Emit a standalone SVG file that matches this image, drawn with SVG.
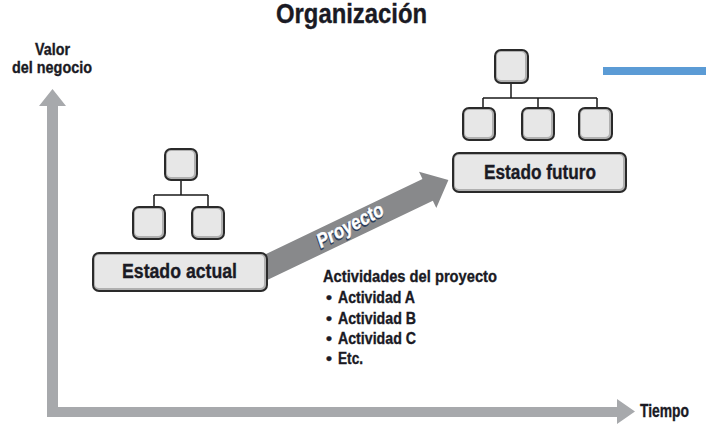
<svg xmlns="http://www.w3.org/2000/svg" width="706" height="444" viewBox="0 0 706 444">
<style>
text{font-family:"Liberation Sans",Arial,sans-serif;font-weight:bold;fill:#1a1a24;stroke:#1a1a24;stroke-width:0.35}
.ob{fill:#b0b0b0;stroke:#2a2a2a;stroke-width:2}
.ib{fill:#e7e7e7}
.ln{stroke:#1a1a1a;stroke-width:1.5;fill:none}
.ax{fill:#a7a9ac}
</style>
<rect width="706" height="444" fill="#fff"/>
<text x="351.5" y="23" font-size="27" text-anchor="middle" textLength="151" lengthAdjust="spacingAndGlyphs">Organización</text>
<g id="axes">
<polygon class="ax" points="47,106 39,106 52.5,89 66,106 58,106 58,407 617,407 617,399 635,411.5 617,424 617,417 47,417"/>
<text x="52.5" y="55" font-size="17" text-anchor="middle" textLength="35" lengthAdjust="spacingAndGlyphs">Valor</text>
<text x="52" y="73" font-size="17" text-anchor="middle" textLength="80" lengthAdjust="spacingAndGlyphs">del negocio</text>
<text x="640" y="417" font-size="18" textLength="49" lengthAdjust="spacingAndGlyphs">Tiempo</text>
</g>
<g id="connectors">
<path class="ln" d="M181,180V195M154,195H208M154,195V207M208,195V207"/>
<path class="ln" d="M511,83V98M483,98H597M483,98V108M538,98V108M597,98V108"/>
</g>
<g id="proyecto-arrow">
<g transform="translate(250,275) rotate(-25.6)">
<polygon points="0,-12 197,-12 197,-20 220,0 197,20 197,12 0,12" fill="#88898b"/>
</g>
<g transform="rotate(-28 350 225)">
<text x="349" y="233" font-size="20" font-style="italic" text-anchor="middle" textLength="73" lengthAdjust="spacingAndGlyphs" style="fill:#2c3e5a;stroke:#2c3e5a;stroke-width:1.2">Proyecto</text>
<text x="350" y="232" font-size="20" font-style="italic" text-anchor="middle" textLength="73" lengthAdjust="spacingAndGlyphs" style="fill:#fff;stroke:#fff;stroke-width:0.4">Proyecto</text>
</g>
</g>
<g id="estado-actual">
<rect class="ob" x="165" y="149" width="32" height="31" rx="6"/><rect class="ib" x="167" y="151" width="27" height="26" rx="4"/>
<rect class="ob" x="133" y="207" width="32" height="32" rx="6"/><rect class="ib" x="135" y="209" width="27" height="27" rx="4"/>
<rect class="ob" x="192" y="207" width="32" height="32" rx="6"/><rect class="ib" x="194" y="209" width="27" height="27" rx="4"/>
<rect class="ob" x="93" y="253" width="174" height="38" rx="6"/><rect class="ib" x="95" y="255" width="169" height="33" rx="4"/>
<text x="179.5" y="277.5" font-size="20" text-anchor="middle" textLength="115" lengthAdjust="spacingAndGlyphs">Estado actual</text>
</g>
<g id="estado-futuro">
<rect class="ob" x="495" y="50" width="33" height="33" rx="6"/><rect class="ib" x="497" y="52" width="28" height="28" rx="4"/>
<rect class="ob" x="463" y="108" width="32" height="32" rx="6"/><rect class="ib" x="465" y="110" width="27" height="27" rx="4"/>
<rect class="ob" x="522" y="108" width="32" height="32" rx="6"/><rect class="ib" x="524" y="110" width="27" height="27" rx="4"/>
<rect class="ob" x="579" y="108" width="33" height="32" rx="6"/><rect class="ib" x="581" y="110" width="28" height="27" rx="4"/>
<rect class="ob" x="453" y="153" width="173" height="39" rx="6"/><rect class="ib" x="455" y="155" width="168" height="34" rx="4"/>
<text x="540" y="178.5" font-size="20" text-anchor="middle" textLength="112" lengthAdjust="spacingAndGlyphs">Estado futuro</text>
</g>
<g id="actividades">
<text x="323" y="282" font-size="17" textLength="174" lengthAdjust="spacingAndGlyphs">Actividades del proyecto</text>
<text x="326" y="303" font-size="17">•</text><text x="338" y="303" font-size="17" textLength="77" lengthAdjust="spacingAndGlyphs">Actividad A</text>
<text x="326" y="324" font-size="17">•</text><text x="338" y="324" font-size="17" textLength="78" lengthAdjust="spacingAndGlyphs">Actividad B</text>
<text x="326" y="344" font-size="17">•</text><text x="338" y="344" font-size="17" textLength="78" lengthAdjust="spacingAndGlyphs">Actividad C</text>
<text x="326" y="364" font-size="17">•</text><text x="338" y="364" font-size="17" textLength="25" lengthAdjust="spacingAndGlyphs">Etc.</text>
</g>
<rect id="blue-bar" x="603" y="67" width="103" height="8" fill="#5b9bd5"/>
</svg>
